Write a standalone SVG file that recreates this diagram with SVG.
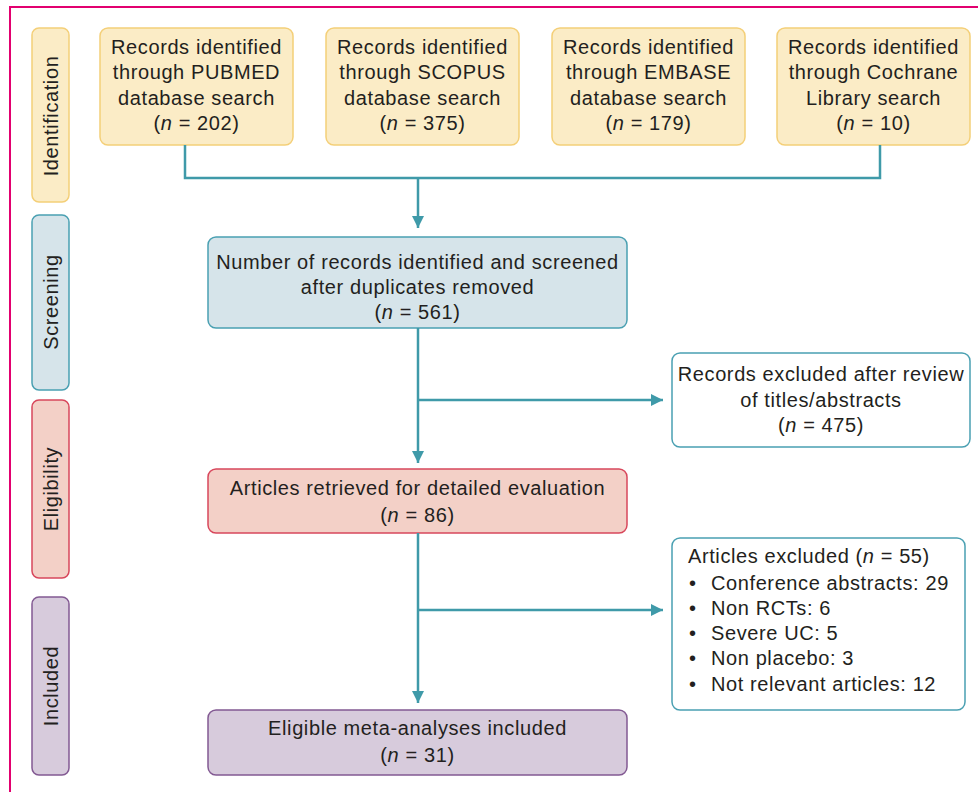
<svg xmlns="http://www.w3.org/2000/svg" width="978" height="792" viewBox="0 0 978 792">
<style>
text{font-family:"Liberation Sans",Arial,sans-serif;font-size:20px;letter-spacing:0.6px;fill:#231f20}
.c{text-anchor:middle}
.y{fill:#fbecc6;stroke:#f4cf78;stroke-width:1.5}
.b{fill:#d6e4ea;stroke:#4aa0b2;stroke-width:1.5}
.r{fill:#f3d0c7;stroke:#d8475c;stroke-width:1.5}
.p{fill:#d7cbdc;stroke:#835a93;stroke-width:1.5}
.w{fill:#fff;stroke:#4aa0b2;stroke-width:1.5}
.ln{fill:none;stroke:#3f9aa9;stroke-width:2.5}
</style>
<defs>
<marker id="ah" viewBox="0 0 10 10" refX="10" refY="5" markerWidth="5" markerHeight="5" orient="auto" markerUnits="strokeWidth">
<path d="M0,0 L10,5 L0,10 Z" fill="#3f9aa9"/>
</marker>
</defs>
<rect x="0" y="0" width="978" height="792" fill="#fff"/>
<rect x="10" y="7" width="980" height="800" fill="none" stroke="#e2006f" stroke-width="2"/>

<g id="stage-identification"><rect class="y" x="32" y="28" width="37" height="174" rx="7"/><text class="c" transform="translate(58,116) rotate(-90)">Identification</text></g>
<g id="stage-screening"><rect class="b" x="32" y="215" width="37" height="175" rx="7"/><text class="c" transform="translate(58,302) rotate(-90)">Screening</text></g>
<g id="stage-eligibility"><rect class="r" x="32" y="400" width="37" height="178" rx="7"/><text class="c" transform="translate(58,489) rotate(-90)">Eligibility</text></g>
<g id="stage-included"><rect class="p" x="32" y="597" width="37" height="178" rx="7"/><text class="c" transform="translate(58,686) rotate(-90)">Included</text></g>

<g id="pubmed"><rect class="y" x="100" y="28" width="193" height="117" rx="8"/>
<text class="c" x="196.5" y="54">Records identified</text><text class="c" x="196.5" y="79">through PUBMED</text><text class="c" x="196.5" y="105">database search</text><text class="c" x="196.5" y="130">(<tspan font-style="italic">n</tspan> = 202)</text></g>
<g id="scopus"><rect class="y" x="326" y="28" width="193" height="117" rx="8"/>
<text class="c" x="422.5" y="54">Records identified</text><text class="c" x="422.5" y="79">through SCOPUS</text><text class="c" x="422.5" y="105">database search</text><text class="c" x="422.5" y="130">(<tspan font-style="italic">n</tspan> = 375)</text></g>
<g id="embase"><rect class="y" x="552" y="28" width="193" height="117" rx="8"/>
<text class="c" x="648.5" y="54">Records identified</text><text class="c" x="648.5" y="79">through EMBASE</text><text class="c" x="648.5" y="105">database search</text><text class="c" x="648.5" y="130">(<tspan font-style="italic">n</tspan> = 179)</text></g>
<g id="cochrane"><rect class="y" x="777" y="28" width="193" height="117" rx="8"/>
<text class="c" x="873.5" y="54">Records identified</text><text class="c" x="873.5" y="79">through Cochrane</text><text class="c" x="873.5" y="105">Library search</text><text class="c" x="873.5" y="130">(<tspan font-style="italic">n</tspan> = 10)</text></g>

<g id="screened"><rect class="b" x="208" y="237" width="419" height="91" rx="8"/>
<text class="c" x="417.5" y="269">Number of records identified and screened</text><text class="c" x="417.5" y="294">after duplicates removed</text><text class="c" x="417.5" y="319">(<tspan font-style="italic">n</tspan> = 561)</text></g>

<g id="excluded1"><rect class="w" x="672" y="353" width="298" height="94" rx="8"/>
<text class="c" x="821" y="381">Records excluded after review</text><text class="c" x="821" y="407">of titles/abstracts</text><text class="c" x="821" y="432">(<tspan font-style="italic">n</tspan> = 475)</text></g>

<g id="retrieved"><rect class="r" x="208" y="469" width="419" height="64" rx="8"/>
<text class="c" x="417.5" y="495">Articles retrieved for detailed evaluation</text><text class="c" x="417.5" y="522">(<tspan font-style="italic">n</tspan> = 86)</text></g>

<g id="excluded2"><rect class="w" x="672" y="538" width="293" height="172" rx="8"/>
<text x="688" y="563">Articles excluded (<tspan font-style="italic">n</tspan> = 55)</text>
<text x="689" y="590">•</text><text x="711" y="590">Conference abstracts: 29</text>
<text x="689" y="615">•</text><text x="711" y="615">Non RCTs: 6</text>
<text x="689" y="640">•</text><text x="711" y="640">Severe UC: 5</text>
<text x="689" y="665">•</text><text x="711" y="665">Non placebo: 3</text>
<text x="689" y="691">•</text><text x="711" y="691">Not relevant articles: 12</text></g>

<g id="included"><rect class="p" x="208" y="710" width="419" height="65" rx="8"/>
<text class="c" x="417.5" y="735">Eligible meta-analyses included</text><text class="c" x="417.5" y="762">(<tspan font-style="italic">n</tspan> = 31)</text></g>

<g id="connectors">
<path class="ln" d="M185,145 V178 H880 V145"/>
<path class="ln" d="M418,178 V228" marker-end="url(#ah)"/>
<path class="ln" d="M418,328 V463" marker-end="url(#ah)"/>
<path class="ln" d="M418,400 H663" marker-end="url(#ah)"/>
<path class="ln" d="M418,533 V703" marker-end="url(#ah)"/>
<path class="ln" d="M418,610 H663" marker-end="url(#ah)"/>
</g>
</svg>
